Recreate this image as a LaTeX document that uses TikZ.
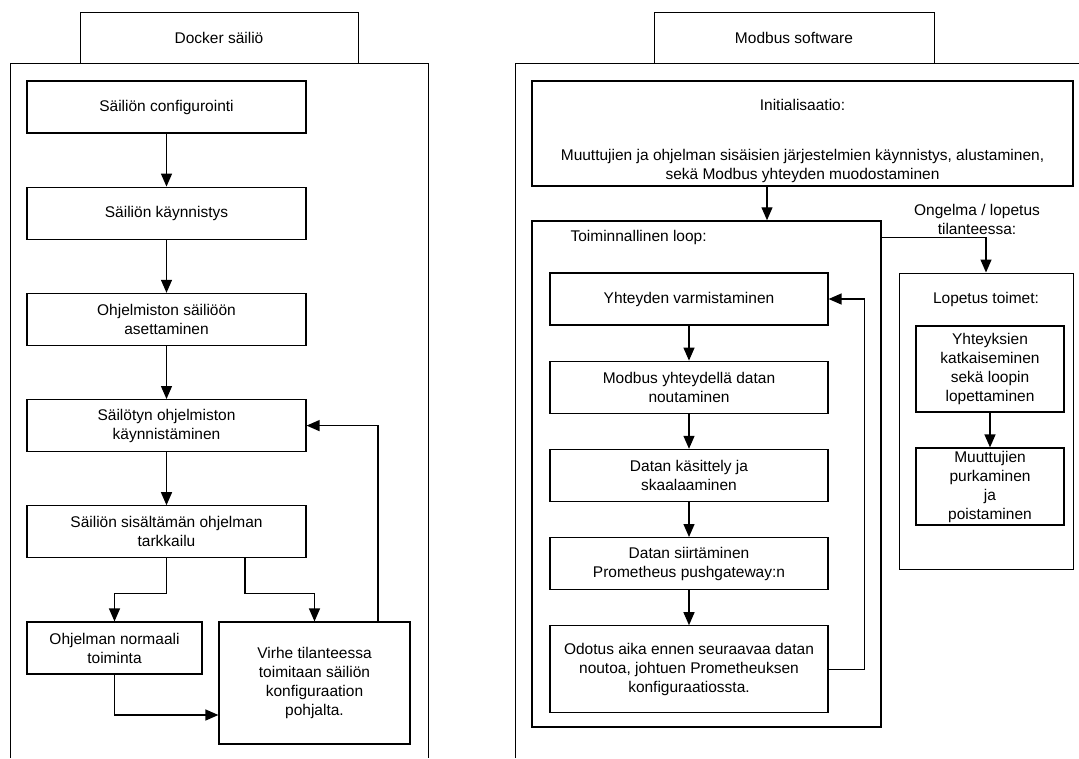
\documentclass[tikz,border=0pt]{standalone}
\usepackage{fontspec}
\setmainfont{Liberation Sans}
\usetikzlibrary{arrows.meta, positioning}

\begin{document}
\begin{tikzpicture}[
  x = 1pt, y = -1pt,
  node distance = 53pt,
  box/.style  = {draw, line width=1.2pt, minimum width=279pt, minimum height=52pt,
                 inner sep=2pt, font=\fontsize{15.5}{19}\selectfont, align=center},
  tab/.style  = {draw, line width=1pt, minimum width=278pt, minimum height=51pt,
                 font=\fontsize{15.5}{19}\selectfont},
  grp/.style  = {draw, minimum width=10pt, minimum height=10pt},
  frm/.style  = {line width=1pt},
  arr/.style  = {line width=1.3pt, -{Triangle[length=13pt 0 1, width=11pt 0 1]}},
  note/.style = {font=\fontsize{15.5}{19}\selectfont, align=center}
]
\useasboundingbox (0,0) rectangle (1079,758);

% Frames and tabs
\draw[frm] (10,758) |- (428,63) -- (428,758);
\draw[frm] (515,758) |- (1079,63);
\node[tab] (dock) at (219,37.5) {Docker säiliö};
\node[tab, minimum width=280pt] (modb) at (794,37.5) {Modbus software};

% Nodes, Docker
\node[box] (conf) at (166.5,107) {Säiliön configurointi};
\node[box, below=of conf]  (kaynn)  {Säiliön käynnistys};
\node[box, below=of kaynn] (aset)   {Ohjelmiston säiliöön\\asettaminen};
\node[box, below=of aset]  (kaynst) {Säilötyn ohjelmiston\\käynnistäminen};
\node[box, below=of kaynst] (tark)  {Säiliön sisältämän ohjelman\\tarkkailu};
\node[box, minimum width=175pt] (norm) at (114.5,648) {Ohjelman normaali\\toiminta};
\node[box, minimum width=191pt, minimum height=122pt] (virhe) at (314.5,683)
  {Virhe tilanteessa\\toimitaan säiliön\\konfiguraation\\pohjalta.};

% Nodes, Modbus
\node[box, minimum width=541pt, minimum height=105pt] (init) at (802.5,133.5)
  {\rule{0pt}{27pt}Initialisaatio:\\[31pt]Muuttujien ja ohjelman sisäisien järjestelmien käynnistys, alustaminen,\\sekä Modbus yhteyden muodostaminen};
\node[grp, line width=1.5pt, minimum width=349pt, minimum height=506pt] (loop) at (706.5,474) {};
\node[note, anchor=west] (looplbl) at (567,237) {Toiminnallinen loop:};
\node[box, minimum width=278pt] (yht) at (689,299) {Yhteyden varmistaminen};
\node[box, minimum width=278pt, below=35pt of yht]  (nout) {Modbus yhteydellä datan\\noutaminen};
\node[box, minimum width=278pt, below=35pt of nout] (kas)  {Datan käsittely ja\\skaalaaminen};
\node[box, minimum width=278pt, below=35pt of kas]  (siir) {Datan siirtäminen\\Prometheus pushgateway:n};
\node[box, minimum width=278pt, minimum height=87pt, below=35pt of siir] (odot)
  {Odotus aika ennen seuraavaa datan\\noutoa, johtuen Prometheuksen\\konfiguraatiossta.};

\node[note] (ong) at (977,219) {Ongelma / lopetus\\tilanteessa:};
\node[grp, line width=1pt, minimum width=174pt, minimum height=296pt] (lop) at (986,421) {};
\node[note] (loplbl) at (986,299) {Lopetus toimet:};
\node[box, minimum width=148pt, minimum height=86pt] (katk) at (990,369)
  {Yhteyksien\\katkaiseminen\\sekä loopin\\lopettaminen};
\node[box, minimum width=148pt, minimum height=77pt] (purk) at (990,486.5)
  {Muuttujien\\purkaminen\\ja\\poistaminen};

% Arrows, Docker
\draw[arr] (conf) -- (kaynn);
\draw[arr] (kaynn) -- (aset);
\draw[arr] (aset) -- (kaynst);
\draw[arr] (kaynst) -- (tark);
\draw[arr] (tark.south) -- ++(0,35) -| (norm.north);
\draw[arr] ([xshift=78.5pt]tark.south) -- ++(0,35) -| (virhe.north);
\draw[arr] (norm.south) |- ([yshift=-32pt]virhe.west);
\draw[arr] ([xshift=63.5pt]virhe.north) |- (kaynst.east);

% Arrows, Modbus
\coordinate (initout) at ([xshift=-35.5pt]init.south);
\draw[arr] (initout) -- (initout |- loop.north);
\draw[arr] (yht) -- (nout);
\draw[arr] (nout) -- (kas);
\draw[arr] (kas) -- (siir);
\draw[arr] (siir) -- (odot);
\draw[arr] (odot.east) -- ++(36,0) |- (yht.east);
\draw[arr] ([yshift=-17pt]loop.north east) -| (lop.north);
\draw[arr] (katk) -- (purk);
\end{tikzpicture}
\end{document}
